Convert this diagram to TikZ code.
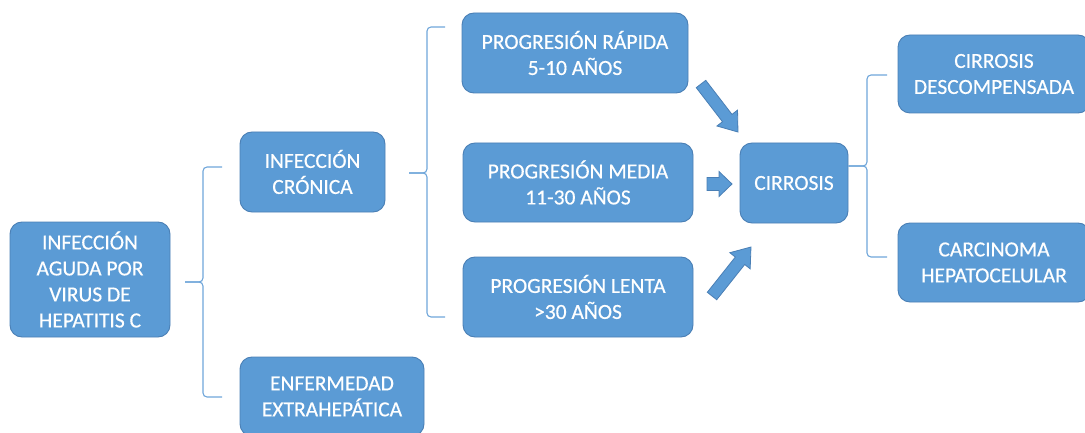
\documentclass[tikz,border=0pt]{standalone}
\usepackage{fontspec}
\setmainfont{Carlito}
\newfontfamily\boxfont{Carlito}[FakeBold=0.45]
\definecolor{boxfill}{HTML}{5B9BD5}
\definecolor{boxline}{HTML}{4A7FB5}
\definecolor{bracecol}{HTML}{6FA6DA}
\tikzset{
  box/.style={draw=boxline, line width=0.9pt, fill=boxfill, rounded corners=12pt,
    text=white, align=center, inner sep=0pt,
    font=\boxfont\fontsize{21.5}{26}\selectfont},
  bracepath/.style={draw=bracecol, line width=1.1pt},
  blockarrow/.style={draw=boxline, line width=0.8pt, fill=boxfill, line join=miter}
}
\begin{document}
\begin{tikzpicture}[x=1pt,y=-1pt]
\useasboundingbox (0,0) rectangle (1085,433);
\begin{scope}
\clip (0,0) rectangle (1085,433);
% boxes
\node[box, minimum width=160pt, minimum height=115pt] (acute) at (90,279.5) {INFECCIÓN\\AGUDA POR\\VIRUS DE\\HEPATITIS C};
\node[box, minimum width=145pt, minimum height=80pt] (chronic) at (312.5,172) {INFECCIÓN\\CRÓNICA};
\node[box, minimum width=184pt, minimum height=79pt] (extra) at (332,396.5) {ENFERMEDAD\\EXTRAHEPÁTICA};
\node[box, minimum width=226pt, minimum height=80pt] (fast) at (575,53) {PROGRESIÓN RÁPIDA\\5-10 AÑOS};
\node[box, minimum width=230pt, minimum height=79pt] (medium) at (578,182.5) {PROGRESIÓN MEDIA\\11-30 AÑOS};
\node[box, minimum width=230pt, minimum height=80pt] (slow) at (578,297) {PROGRESIÓN LENTA\\>30 AÑOS};
\node[box, minimum width=108pt, minimum height=80pt] (cirr) at (794,183) {CIRROSIS};
\node[box, minimum width=192pt, minimum height=78pt] (decomp) at (994,74) {CIRROSIS\\DESCOMPENSADA};
\node[box, minimum width=192pt, minimum height=79pt] (hcc) at (994,262.5) {CARCINOMA\\HEPATOCELULAR};
\end{scope}
% brace 1
\coordinate (b1tip) at (185,282);
\coordinate (b1top) at (222,167);
\coordinate (b1bot) at (222,397);
\draw[bracepath] (b1top) -- (207,167) to[out=180,in=90] (203,171) -- (203,278) to[out=-90,in=0] (199,282) -- (b1tip);
\draw[bracepath] (b1tip) -- (199,282) to[out=0,in=90] (203,286) -- (203,393) to[out=-90,in=180] (207,397) -- (b1bot);
% brace 2
\coordinate (b2tip) at (409,173);
\coordinate (b2top) at (445,27);
\coordinate (b2bot) at (445,317);
\draw[bracepath] (b2top) -- (431,27) to[out=180,in=90] (427,31) -- (427,169) to[out=-90,in=0] (423,173) -- (b2tip);
\draw[bracepath] (b2tip) -- (423,173) to[out=0,in=90] (427,177) -- (427,313) to[out=-90,in=180] (431,317) -- (b2bot);
% brace 3
\coordinate (b3tip) at (cirr.east |- 0,166);
\coordinate (b3top) at (887,75);
\coordinate (b3bot) at (887,257);
\draw[bracepath] (b3top) -- (871,75) to[out=180,in=90] (867,79) -- (867,162) to[out=-90,in=0] (863,166) -- (b3tip);
\draw[bracepath] (b3tip) -- (863,166) to[out=0,in=90] (867,170) -- (867,253) to[out=-90,in=180] (871,257) -- (b3bot);
% block arrows
\begin{scope}[shift={(701,84)}, rotate=-52.4]
\draw[blockarrow] (0,-6) -- (43,-6) -- (43,-13) -- (60.6,0) -- (43,13) -- (43,6) -- (0,6) -- cycle;
\end{scope}
\begin{scope}[shift={(707,184)}]
\draw[blockarrow] (0,-6.5) -- (12,-6.5) -- (12,-12.5) -- (25,0) -- (12,12.5) -- (12,6.5) -- (0,6.5) -- cycle;
\end{scope}
\begin{scope}[shift={(712,296)}, rotate=51.5]
\draw[blockarrow] (0,-6) -- (45,-6) -- (45,-13) -- (62.6,0) -- (45,13) -- (45,6) -- (0,6) -- cycle;
\end{scope}
\end{tikzpicture}
\end{document}
